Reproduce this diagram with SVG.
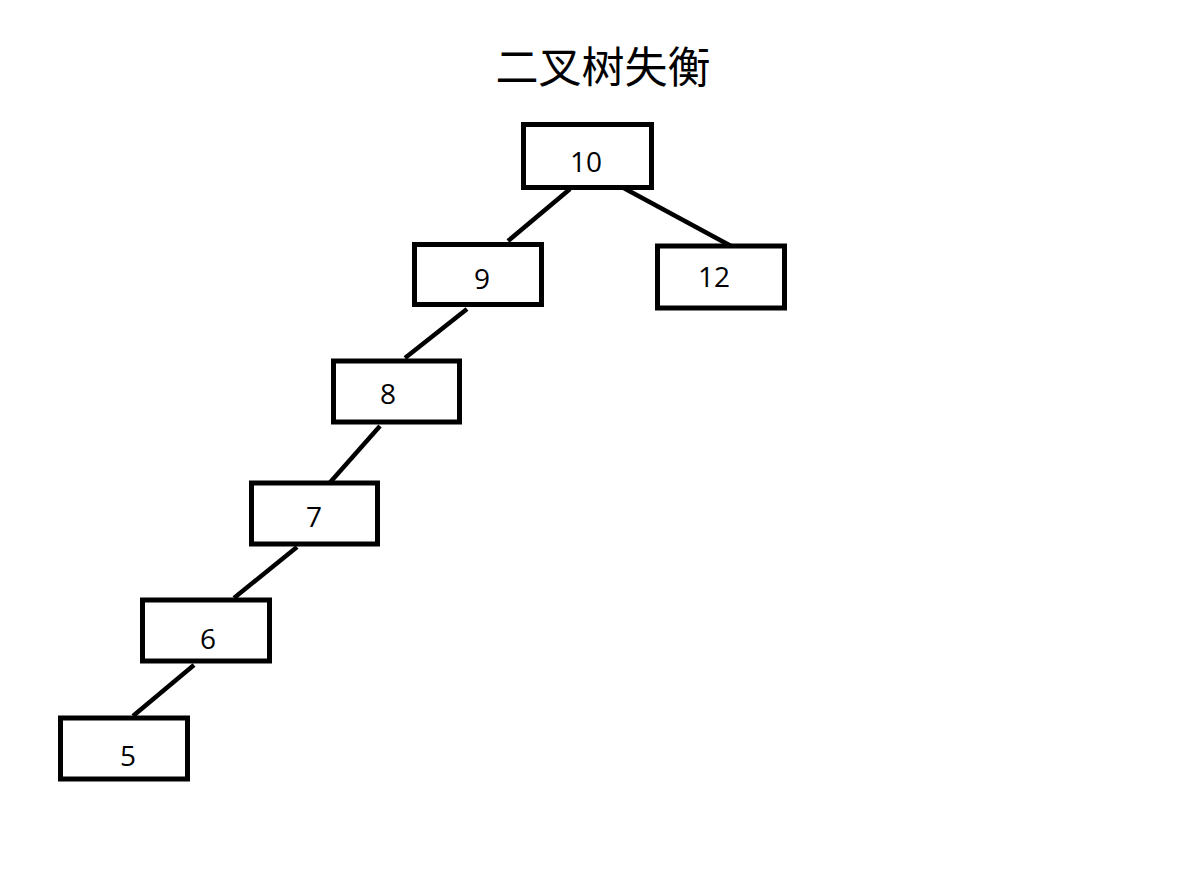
<svg xmlns="http://www.w3.org/2000/svg" width="1195" height="887" viewBox="0 0 1195 887">
<style>
.box{fill:#fff;stroke:#000;stroke-width:5}
.lbl{font-family:"Open Sans","Noto Sans",sans-serif;font-size:28px;fill:#000;text-anchor:middle}
.title{font-family:"Noto Sans CJK SC",sans-serif;font-size:43px;fill:#000;text-anchor:middle}
.edge{stroke:#000;stroke-width:4.5;fill:none}
</style>
<rect width="1195" height="887" fill="#fff"/>
<text class="title" x="603" y="83">二叉树失衡</text>
<g id="connectors">
<line class="edge" x1="570" y1="189" x2="508" y2="241"/>
<line class="edge" x1="620" y1="186" x2="731" y2="246"/>
<line class="edge" x1="467" y1="309" x2="405" y2="358"/>
<line class="edge" x1="380" y1="426" x2="326" y2="487"/>
<line class="edge" x1="297" y1="547" x2="234" y2="598"/>
<line class="edge" x1="194" y1="665" x2="133" y2="716"/>
</g>
<g id="n10"><rect class="box" x="523.5" y="124.5" width="128" height="63"/><text class="lbl" x="586" y="172">10</text></g>
<g id="n9"><rect class="box" x="414.5" y="244.5" width="127" height="60"/><text class="lbl" x="482" y="289">9</text></g>
<g id="n12"><rect class="box" x="657.5" y="246" width="127" height="62"/><text class="lbl" x="714" y="287">12</text></g>
<g id="n8"><rect class="box" x="333.5" y="361" width="126" height="61"/><text class="lbl" x="388" y="404">8</text></g>
<g id="n7"><rect class="box" x="251.5" y="483" width="126" height="61"/><text class="lbl" x="314" y="527">7</text></g>
<g id="n6"><rect class="box" x="142.5" y="600" width="127" height="61"/><text class="lbl" x="208" y="649">6</text></g>
<g id="n5"><rect class="box" x="60.5" y="718" width="127" height="61"/><text class="lbl" x="128" y="766">5</text></g>
</svg>
